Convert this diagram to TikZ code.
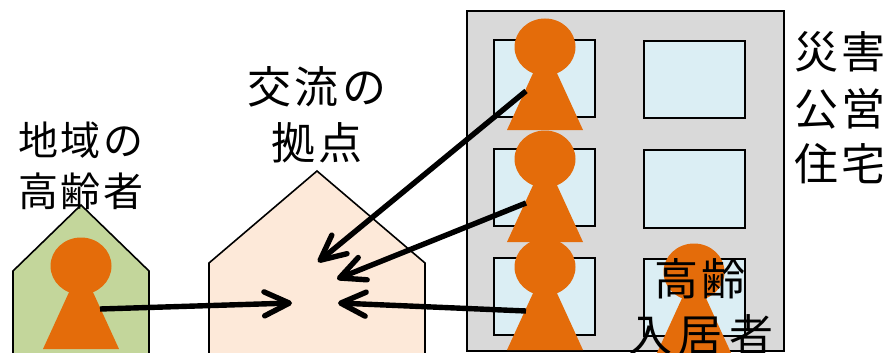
\documentclass[tikz,border=0pt]{standalone}
\usepackage{fontspec}
\usetikzlibrary{arrows.meta}
\newfontfamily\cjk[LetterSpace=7]{Noto Sans CJK JP}
\newfontfamily\cjkwide[LetterSpace=14]{Noto Sans CJK JP}
\definecolor{orangeP}{HTML}{E46C0A}
\definecolor{winC}{HTML}{DBEEF4}
\definecolor{bldC}{HTML}{D9D9D9}
\definecolor{houseG}{HTML}{C3D69B}
\definecolor{houseP}{HTML}{FDE9D9}
\tikzset{
  x=1pt,y=-1pt,
  house/.style={draw=black,line width=1.6pt,line join=miter},
  win/.style={draw=black,line width=1.6pt,fill=winC},
  flow/.style={line width=5.4pt,black,-{Straight Barb[length=25pt,width=24pt,line width=5.4pt,round]}},
  lab/.style={inner sep=0pt,align=center,text=black},
  pics/person/.style={code={
    \fill[orangeP] (0,0) ellipse[x radius=30.5,y radius=28.5];
    \fill[orangeP] (0,0) -- (38,83) -- (-38,83) -- cycle;
  }}
}
\newcommand{\fsmall}{\fontsize{40}{57}\selectfont\cjk}
\newcommand{\fbig}{\fontsize{44}{57}\selectfont\cjk}
\newcommand{\fwide}{\fontsize{44}{57}\selectfont\cjkwide}
\begin{document}
\begin{tikzpicture}
\useasboundingbox (0,0) rectangle (889,353);
\clip (0,0) rectangle (889,353);
% houses
\filldraw[house,fill=houseG] (13,360) -- (13,271) -- (81,205) -- (149,271) -- (149,360);
\filldraw[house,fill=houseP] (209,360) -- (209,263) -- (317,171) -- (425,263) -- (425,360);
% building
\filldraw[draw=black,line width=1.6pt,fill=bldC] (467,11) rectangle (784,351);
\foreach \n/\xa/\ya/\xb/\yb in {a/494/40/595/117,b/494/149/595/226,c/494/258/595/335,d/644/41/745/118,e/644/150/745/228,f/644/259/745/336}
  \filldraw[win] (\xa,\ya) rectangle (\xb,\yb);
% persons
\pic at (81,266) {person};
\pic at (545,47) {person};
\pic at (545,159) {person};
\pic at (545,267) {person};
\pic at (694,272) {person};
% connector ends
\coordinate (s1) at (100,309);
\coordinate (t1) at (292,303);
\coordinate (s2) at (526,311);
\coordinate (t2) at (338,303);
\coordinate (s3) at (526,203);
\coordinate (t3) at (337,279);
\coordinate (s4) at (526,91);
\coordinate (t4) at (318,262);
\draw[flow] (s1) -- (t1);
\draw[flow] (s2) -- (t2);
\draw[flow] (s3) -- (t3);
\draw[flow] (s4) -- (t4);
% labels
\node[lab] (l1) at (81,140) {\fsmall 地域の};
\node[lab] (l2) at (81,191) {\fsmall 高齢者};
\node[lab] (l3) at (317,87) {\fbig 交流の};
\node[lab] (l4) at (317,143) {\fbig 拠点};
\node[lab] (l5) at (840,52) {\fbig 災害};
\node[lab] (l6) at (840,109) {\fbig 公営};
\node[lab] (l7) at (840,164) {\fbig 住宅};
\node[lab] (l8) at (700,279) {\fbig 高齢};
\node[lab] (l9) at (701,335) {\fwide 入居者};
\end{tikzpicture}
\end{document}
